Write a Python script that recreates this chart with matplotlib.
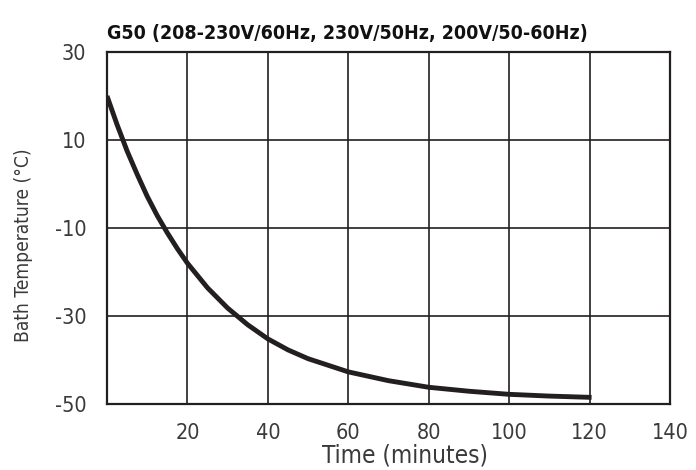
import matplotlib
matplotlib.use("Agg")
import matplotlib.pyplot as plt

# bath pull-down curve
time_min = [0, 2.5, 5, 7.5, 10, 12.5, 15, 17.5, 20, 25, 30, 35, 40, 45, 50, 60, 70, 80, 90, 100, 110, 120.5]
bath_temp = [20, 13.5, 7.5, 2.2, -2.8, -7.2, -11.1, -14.7, -18.0, -23.6, -28.2, -32.0, -35.2,
             -37.7, -39.7, -42.7, -44.7, -46.2, -47.1, -47.8, -48.2, -48.5]

x_ticks = [20, 40, 60, 80, 100, 120, 140]
y_ticks = [-50, -30, -10, 10, 30]
title = "G50 (208-230V/60Hz, 230V/50Hz, 200V/50-60Hz)"

plt.rcParams["font.family"] = ["DejaVu Sans"]
plt.rcParams["font.stretch"] = "condensed"
plt.rcParams["axes.unicode_minus"] = False
INK = "#231f20"
TXT = "#3a3a3a"

fig = plt.figure(figsize=(6.96, 4.70), dpi=100)
ax = fig.add_axes([107 / 696, 1 - 404 / 470, 563 / 696, 352 / 470])

for x in x_ticks[:-1]:
    ax.axvline(x, color=INK, lw=1.2, zorder=1)
for y in y_ticks[1:-1]:
    ax.axhline(y, color=INK, lw=1.2, zorder=1)

ax.plot(time_min, bath_temp, color=INK, lw=3.5, solid_capstyle="butt", zorder=3)

ax.set_xlim(0, 140)
ax.set_ylim(-50, 30)
ax.set_xticks(x_ticks)
ax.set_yticks(y_ticks)
ax.tick_params(length=0, labelsize=15.5, labelcolor=TXT)
ax.tick_params(axis="x", pad=14)
ax.tick_params(axis="y", pad=15)
for s in ax.spines.values():
    s.set_color(INK)
    s.set_linewidth(1.6)

ax.set_xlabel("Time (minutes)", fontsize=17.5, color=TXT)
ax.xaxis.set_label_coords(0.529, -0.113)
ax.set_ylabel("Bath Temperature (°C)", fontsize=13.8, color=TXT, va="center")
ax.yaxis.set_label_coords(-0.149, 0.452)
ax.set_title(title, loc="left", fontsize=14, fontweight="bold", color="#111111", pad=9)

fig.savefig("out.png", dpi=100)
